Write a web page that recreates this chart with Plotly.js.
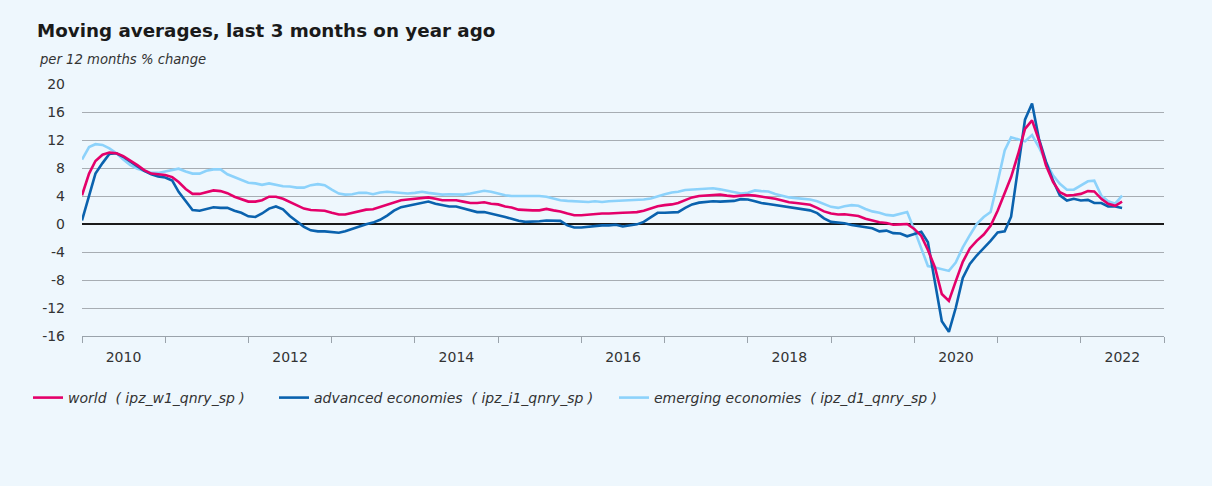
<!DOCTYPE html>
<html><head><meta charset="utf-8">
<script src="https://cdn.plot.ly/plotly-3.0.1.min.js"></script>
<style>html,body{margin:0;padding:0;background:#EEF7FD;} #chart{width:1212px;height:486px;}</style>
</head><body><div id="chart"></div>
<script>
// monthly series, Jan 2010 .. Jul 2022 (% change, 3m moving average on year ago)
const startMonth = '2010-01';
const world = [4.1,7.2,9.0,9.9,10.2,10.1,9.7,9.1,8.4,7.7,7.2,7.1,7.0,6.7,6.0,5.0,4.3,4.3,4.6,4.8,4.7,4.4,3.9,3.5,3.2,3.2,3.4,3.9,3.9,3.6,
3.15,2.7,2.2,2.0,2.0,1.9,1.6,1.35,1.35,1.6,1.9,2.05,2.1,2.45,2.8,3.15,3.4,3.5,3.6,3.8,3.8,3.6,3.4,3.4,3.4,3.2,3.0,3.0,3.1,2.9,
2.8,2.5,2.35,2.05,1.95,1.95,1.95,2.15,1.95,1.8,1.5,1.25,1.25,1.35,1.5,1.5,1.5,1.6,1.6,1.65,1.7,1.9,2.2,2.55,2.7,2.8,3.0,3.4,3.8,4.0,
4.1,4.2,4.2,4.05,3.95,4.05,4.15,4.05,3.9,3.8,3.6,3.35,3.1,3.0,2.85,2.75,2.3,1.8,1.5,1.35,1.4,1.25,1.15,0.75,0.5,0.25,0.15,-0.1,-0.05,0,
-0.7,-1.7,-3.7,-6.2,-10.0,-11.0,-8.2,-5.4,-3.5,-2.4,-1.5,-0.25,1.9,4.4,6.7,10.0,13.6,14.8,12.0,8.4,6.0,4.55,4.05,4.15,4.3,4.7,4.65,3.6,2.9,2.6,
3.2];
const advanced = [0.5,3.9,7.2,8.7,10.0,10.1,9.6,8.9,8.2,7.6,7.1,6.8,6.65,6.2,4.6,3.2,2.0,1.9,2.2,2.4,2.3,2.3,1.9,1.6,1.1,1.0,1.5,2.2,2.5,2.1,
1.15,0.4,-0.4,-0.9,-1.05,-1.05,-1.15,-1.25,-1.05,-0.7,-0.3,-0.05,0.2,0.6,1.2,1.9,2.4,2.6,2.9,3.0,3.2,2.9,2.7,2.5,2.5,2.2,1.9,1.7,1.7,1.5,
1.2,1.0,0.75,0.45,0.3,0.3,0.4,0.5,0.5,0.45,-0.2,-0.5,-0.5,-0.4,-0.2,-0.2,-0.2,-0.1,-0.35,-0.2,-0.05,0.3,0.9,1.6,1.6,1.6,1.7,2.3,2.8,3.05,
3.15,3.25,3.2,3.2,3.3,3.55,3.5,3.25,3.0,2.85,2.7,2.55,2.4,2.2,2.05,1.95,1.55,0.8,0.3,0.2,0.12,-0.15,-0.3,-0.45,-0.6,-1.05,-0.95,-1.3,-1.35,-1.75,
-1.4,-1.1,-2.6,-8.1,-13.9,-15.4,-12.0,-7.7,-5.7,-4.5,-3.5,-2.4,-1.2,-1.05,1.05,8.1,14.9,17.2,12.2,8.9,6.2,4.1,3.35,3.6,3.35,3.45,3.0,3.0,2.5,2.5,
2.3];
const emerging = [9.2,11.0,11.4,11.3,10.8,10.1,9.2,8.4,7.9,7.6,7.3,7.3,7.5,7.8,7.9,7.5,7.2,7.2,7.6,7.8,7.8,7.1,6.7,6.2,5.9,5.8,5.6,5.8,5.6,5.4,
5.35,5.2,5.2,5.55,5.7,5.55,4.9,4.35,4.2,4.25,4.45,4.45,4.25,4.5,4.6,4.5,4.35,4.35,4.45,4.6,4.45,4.35,4.2,4.25,4.25,4.2,4.35,4.6,4.75,4.6,
4.35,4.1,4.0,4.0,4.0,4.1,4.0,3.9,3.65,3.4,3.3,3.25,3.15,3.15,3.25,3.15,3.25,3.3,3.4,3.4,3.4,3.5,3.65,4.0,4.25,4.5,4.6,4.85,4.9,5.0,
5.0,5.1,4.95,4.75,4.5,4.35,4.45,4.8,4.7,4.65,4.3,4.0,3.8,3.7,3.6,3.5,3.25,2.9,2.45,2.3,2.55,2.7,2.6,2.15,1.8,1.6,1.3,1.2,1.4,1.7,
-0.8,-3.5,-6.0,-6.2,-6.4,-6.7,-5.5,-3.35,-1.6,0,1.0,1.7,6.0,10.5,12.4,12.05,11.8,12.7,11.0,8.85,6.95,5.75,4.9,4.9,5.5,6.1,6.2,4.05,3.25,2.9,
4.05];

const seriesNames = ['world\u00a0\u00a0( ipz_w1_qnry_sp )',
                     'advanced economies\u00a0\u00a0( ipz_i1_qnry_sp )',
                     'emerging economies\u00a0\u00a0( ipz_d1_qnry_sp )'];
const seriesColors = ['#E4006A', '#0A62AE', '#8CD2FB'];
const yTickVals = [-16,-12,-8,-4,0,4,8,12,16,20];
const yearLabels = ['2010','2012','2014','2016','2018','2020','2022'];
const yearBoundaries = [2010,2011,2012,2013,2014,2015,2016,2017,2018,2019,2020,2021,2022,2023];

function monthDates(n) {
  const y0 = parseInt(startMonth.slice(0,4)), m0 = parseInt(startMonth.slice(5,7)) - 1;
  const out = [];
  for (let i = 0; i < n; i++) {
    const t = m0 + i, y = y0 + Math.floor(t / 12), m = t % 12 + 1;
    out.push(y + '-' + String(m).padStart(2,'0') + '-01');
  }
  return out;
}
const dates = monthDates(world.length);

const legendIds = ['legend','legend2','legend3'];
const traces = [emerging, advanced, world].map((vals, k) => {
  const idx = 2 - k;
  return {
    x: dates, y: vals, type: 'scatter', mode: 'lines',
    name: seriesNames[idx], legend: legendIds[idx],
    line: {color: seriesColors[idx], width: 2.6},
    hoverinfo: 'x+y'
  };
});

const font = 'DejaVu Sans, sans-serif';
const legendBase = {orientation: 'h', yanchor: 'middle', y: -0.246, xanchor: 'left',
  bgcolor: 'rgba(0,0,0,0)', font: {family: font, size: 14, color: '#333', style: 'italic'}};

const layout = {
  width: 1212, height: 486,
  paper_bgcolor: '#EEF7FD', plot_bgcolor: '#EEF7FD',
  margin: {l: 82, r: 48, t: 84, b: 150},
  title: {text: 'Moving averages, last 3 months on year ago', xref: 'container', x: 37/1212, xanchor: 'left',
          yref: 'container', y: 1 - 31/486, yanchor: 'middle',
          font: {family: font, size: 18.3, color: '#1a1a1a', weight: 'bold'}},
  annotations: [{text: 'per 12 months % change', xref: 'paper', yref: 'paper',
    x: (37-82)/1082, y: (336-60)/252, xanchor: 'left', yanchor: 'middle', showarrow: false,
    font: {family: font, size: 13.2, color: '#333', style: 'italic'}}],
  xaxis: {
    type: 'date', range: ['2010-01-01', '2023-01-01'],
    tickmode: 'array', tickvals: yearLabels.map(y => y + '-07-02'), ticktext: yearLabels,
    ticks: '', showgrid: false, zeroline: false,
    showline: true, linecolor: '#9aa3ab', linewidth: 1,
    ticklabelstandoff: 8,
    tickfont: {family: font, size: 14, color: '#333'},
    minor: {tickmode: 'array', tickvals: yearBoundaries.map(y => y + '-01-01'), ticks: 'outside',
            ticklen: 6, tickcolor: '#9aa3ab', tickwidth: 1, showgrid: false}
  },
  yaxis: {
    range: [-16, 20], tickmode: 'array', tickvals: yTickVals, ticktext: yTickVals.map(String),
    showgrid: true, gridcolor: '#a7adb3', gridwidth: 1,
    zeroline: true, zerolinecolor: '#1a1a1a', zerolinewidth: 2,
    showline: false, ticks: '', ticklabelstandoff: 16,
    tickfont: {family: font, size: 14, color: '#333'}
  },
  legend: Object.assign({}, legendBase, {x: (28-82)/1082}),
  legend2: Object.assign({}, legendBase, {x: (274-82)/1082}),
  legend3: Object.assign({}, legendBase, {x: (614-82)/1082}),
  showlegend: true
};

Plotly.newPlot('chart', traces, layout, {displayModeBar: false, staticPlot: true});
</script>
</body></html>
